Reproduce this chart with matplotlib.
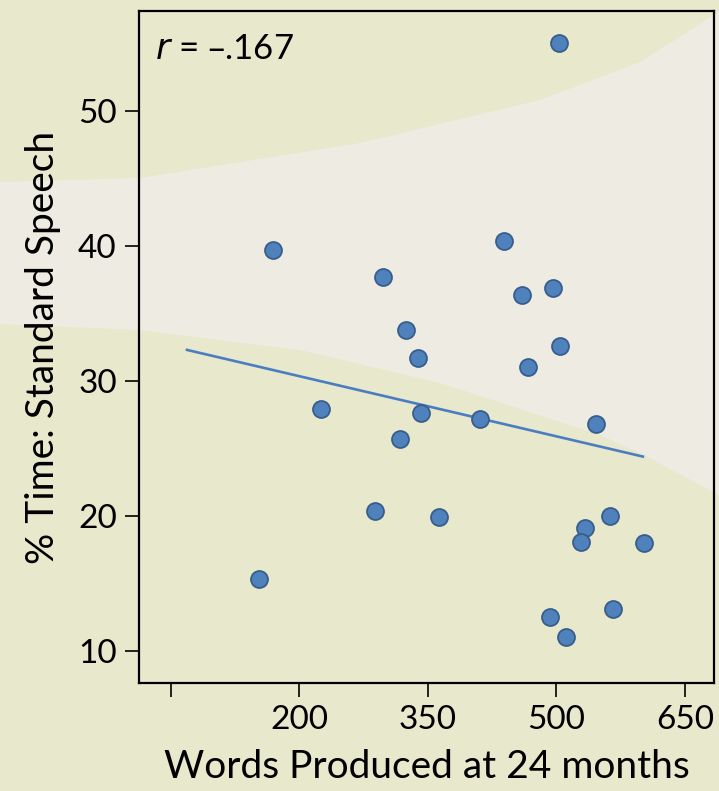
import numpy as np
import matplotlib
matplotlib.use("Agg")
import matplotlib.pyplot as plt

plt.rcParams['font.family'] = ['Lato', 'DejaVu Sans']

# data
words_24m = [503, 169, 298, 439, 460, 496, 325, 339, 504, 467, 225, 342, 411,
             318, 546, 288, 363, 563, 533, 529, 602, 566, 493, 511, 153]
pct_standard = [55.0, 39.7, 37.7, 40.4, 36.4, 36.9, 33.8, 31.7, 32.6, 31.0,
                27.9, 27.6, 27.2, 25.7, 26.8, 20.4, 19.9, 20.0, 19.1, 18.1,
                18.0, 13.1, 12.5, 11.0, 15.3]
fit_x = [69, 601]
fit_y = [32.3, 24.4]
x_ticks = [50, 200, 350, 500, 650]
x_ticklabels = ['', '200', '350', '500', '650']
y_ticks = [10, 20, 30, 40, 50]
r_text = '$r$ = \u2013.167'

W, H = 719, 791
fig = plt.figure(figsize=(W / 100, H / 100), dpi=100)
beige = '#E8E8CD'
light = '#EEECE2'
fig.patch.set_facecolor(beige)

# background band (pixel coords)
bg = fig.add_axes([0, 0, 1, 1], zorder=-1)
bg.set_xlim(0, W)
bg.set_ylim(H, 0)
bg.axis('off')
px = np.linspace(0, W, 200)
upper = np.interp(px, [0, 140, 360, 540, 640, 719], [182, 178, 143, 100, 62, 12])
lower = np.interp(px, [0, 140, 300, 440, 600, 640, 719], [324, 330, 350, 383, 435, 453, 495])
bg.fill_between(px, upper, lower, color=light, lw=0)

ax = fig.add_axes([139 / W, 1 - 683 / H, 575 / W, 672 / H])
ax.patch.set_alpha(0)

ax.plot(fit_x, fit_y, color='#4A7EC1', lw=1.9, zorder=2)
ax.plot(words_24m, pct_standard, 'o', ms=12.2, mfc='#4F81BD', mec='#385D8A',
        mew=1.3, zorder=3)

ax.set_xlim(13, 684)
ax.set_ylim(7.63, 57.4)
ax.set_xticks(x_ticks)
ax.set_xticklabels(x_ticklabels)
ax.set_yticks(y_ticks)

for s in ax.spines.values():
    s.set_linewidth(1.6)
    s.set_color('black')
ax.tick_params(direction='out', length=10, width=1.2, labelsize=24, pad=6,
               colors='black')

ax.set_xlabel('Words Produced at 24 months', fontsize=28, labelpad=10)
ax.set_ylabel('% Time: Standard Speech', fontsize=28, labelpad=12)

ax.text(0.028, 0.967, r_text, transform=ax.transAxes, fontsize=25,
        ha='left', va='top')

fig.savefig('out.png', dpi=100, facecolor=fig.get_facecolor())
